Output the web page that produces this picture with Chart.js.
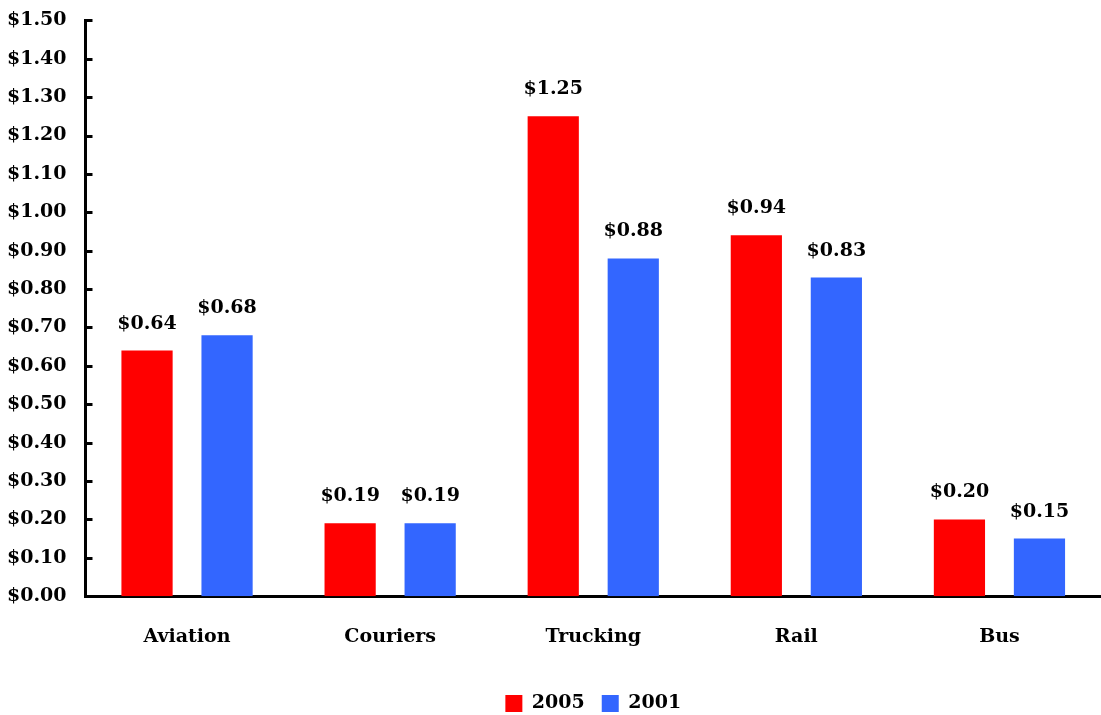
<!DOCTYPE html>
<html>
<head>
<meta charset="utf-8">
<script src="https://cdn.jsdelivr.net/npm/chart.js@4/dist/chart.umd.min.js"></script>
<style>
  html, body { margin: 0; padding: 0; background: #fff; overflow: hidden; }
  #wrap { width: 1101px; height: 725px; position: relative; top: -10px; }
</style>
</head>
<body>
<div id="wrap"><canvas id="chart"></canvas></div>
<script>
const categories = ["Aviation", "Couriers", "Trucking", "Rail", "Bus"];
const values2005 = [0.64, 0.19, 1.25, 0.94, 0.20];
const values2001 = [0.68, 0.19, 0.88, 0.83, 0.15];
const seriesNames = ["2005", "2001"];

const FONT = "'DejaVu Serif', serif";

// tick marks pointing into the plot area, plus value labels above the bars
const extras = {
    id: "extras",
    afterDatasetsDraw(chart) {
        const ctx = chart.ctx;
        const y = chart.scales.y;
        const area = chart.chartArea;
        ctx.save();
        ctx.strokeStyle = "#000";
        ctx.lineWidth = 3;
        y.ticks.forEach(t => {
            const py = Math.round(y.getPixelForValue(t.value)) + 0.5;
            ctx.beginPath();
            ctx.moveTo(area.left, py);
            ctx.lineTo(area.left + 7, py);
            ctx.stroke();
        });
        ctx.fillStyle = "#000";
        ctx.font = "bold 19px " + FONT;
        ctx.textAlign = "center";
        ctx.textBaseline = "alphabetic";
        chart.data.datasets.forEach((ds, i) => {
            chart.getDatasetMeta(i).data.forEach((bar, j) => {
                ctx.fillText("$" + ds.data[j].toFixed(2), bar.x, bar.y - 22);
            });
        });
        ctx.restore();
    }
};

new Chart(document.getElementById("chart"), {
    type: "bar",
    data: {
        labels: categories,
        datasets: [
            { label: seriesNames[0], data: values2005, backgroundColor: "#FF0000" },
            { label: seriesNames[1], data: values2001, backgroundColor: "#3366FF" }
        ]
    },
    options: {
        responsive: true,
        maintainAspectRatio: false,
        animation: false,
        categoryPercentage: 0.788,
        barPercentage: 0.64,
        layout: { padding: { top: 0, right: 0, left: -12, bottom: -8 } },
        plugins: {
            tooltip: { enabled: false },
            legend: {
                position: "bottom",
                fullSize: false,
                labels: {
                    color: "#000",
                    font: { family: FONT, size: 19, weight: "bold" },
                    boxWidth: 17,
                    boxHeight: 17,
                    padding: 17
                }
            }
        },
        scales: {
            x: {
                grid: { display: false, drawTicks: false },
                border: { display: true, color: "#000", width: 3 },
                ticks: {
                    color: "#000",
                    padding: 29,
                    font: { family: FONT, size: 19, weight: "bold" }
                }
            },
            y: {
                min: 0,
                max: 1.5,
                grid: { display: false, drawTicks: false },
                border: { display: true, color: "#000", width: 3 },
                ticks: {
                    stepSize: 0.1,
                    color: "#000",
                    padding: 19,
                    font: { family: FONT, size: 19, weight: "bold" },
                    callback: v => "$" + Number(v).toFixed(2)
                }
            }
        }
    },
    plugins: [extras]
});
</script>
</body>
</html>
